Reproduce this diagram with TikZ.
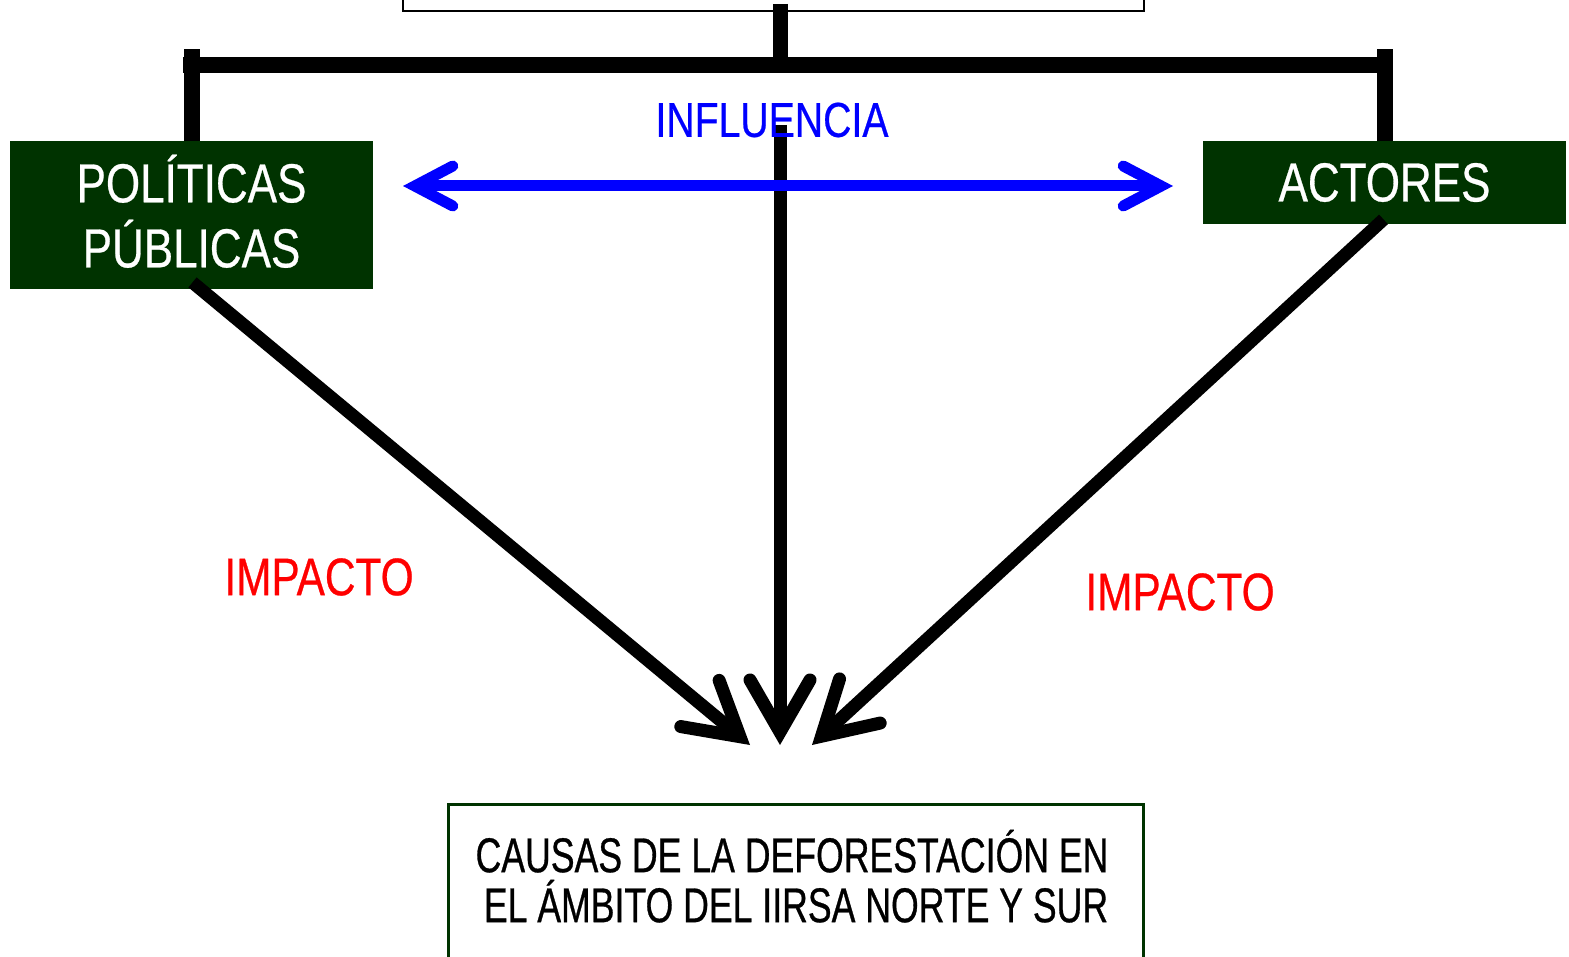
\documentclass[tikz,border=0pt]{standalone}
\usepackage{fontspec}
\setmainfont{Liberation Sans}[FakeStretch=0.8,FakeBold=0.5]
\newfontfamily\narrowfont{Liberation Sans}[FakeStretch=0.73,FakeBold=0.6]
\usetikzlibrary{arrows.meta,positioning,calc}
\definecolor{darkgreen}{RGB}{0,51,0}
\tikzset{
  frame/.style={draw=black, line width=1pt},
  bar/.style={line width=8pt, black},
  stem/.style={line width=7.5pt, black},
  link/.style={line width=6.5pt, black, -{Straight Barb[length=26pt,width=30pt,line cap=round]}},
  influence/.style={line width=5.5pt, blue, {Straight Barb[length=19pt,width=20pt,line cap=round]}-{Straight Barb[length=19pt,width=20pt,line cap=round]}},
  greenbox/.style={fill=darkgreen, text=white, font=\fontsize{27.5}{32.5}\selectfont, align=center, inner sep=0pt, minimum width=181.5pt},
  causebox/.style={draw=darkgreen, line width=1.5pt, fill=white, font=\narrowfont\fontsize{24.4}{25}\selectfont, align=center, inner sep=0pt, minimum width=347.5pt, minimum height=78pt},
  tag/.style={font=\fontsize{26.5}{30}\selectfont, inner sep=0pt}
}
\begin{document}
\begin{tikzpicture}[x=0.5pt, y=-0.5pt]
  \useasboundingbox (0,0) rectangle (1569,957);
  \node[frame, anchor=south west, minimum width=370.5pt, minimum height=40pt] (origen) at (402,12) {};
  \node[greenbox, minimum height=74pt] (politicas) at (191.5,215) {POLÍTICAS\\PÚBLICAS\rule[-4pt]{0pt}{0pt}};
  \node[greenbox, minimum height=41.5pt] (actores) at (1384.5,182.5) {ACTORES};
  \draw[stem] (780,4) -- (780,65);
  \draw[bar] (183,65) -- (1393,65);
  \draw[bar] (politicas.north) -- ++(0,-92);
  \draw[bar] (actores.north) -- ++(0,-92);
  \coordinate (inf) at (780,125);
  \coordinate (tipL) at (750,745);
  \coordinate (tipC) at (780,745);
  \coordinate (tipR) at (812,745);
  \draw[link] (inf) -- (tipC);
  \node[tag, text=blue, font=\fontsize{24.5}{28}\selectfont] (influencia) at (772,120) {INFLUENCIA};
  \coordinate (bl) at (403,186);
  \coordinate (br) at (1173,186);
  \draw[influence] (bl) -- (br);
  \draw[link] ($(politicas.south)+(1,-7)$) -- (tipL);
  \draw[link] ($(actores.south)+(-1,-5)$) -- (tipR);
  \node[tag, text=red] (impactoL) at (319,577) {IMPACTO};
  \node[tag, text=red] (impactoR) at (1180,592) {IMPACTO};
  \node[causebox] (causas) at (796,882) {CAUSAS DE LA DEFORESTACIÓN EN\hspace*{4pt}\\EL ÁMBITO DEL IIRSA NORTE Y SUR\rule[-6pt]{0pt}{0pt}};
\end{tikzpicture}
\end{document}
